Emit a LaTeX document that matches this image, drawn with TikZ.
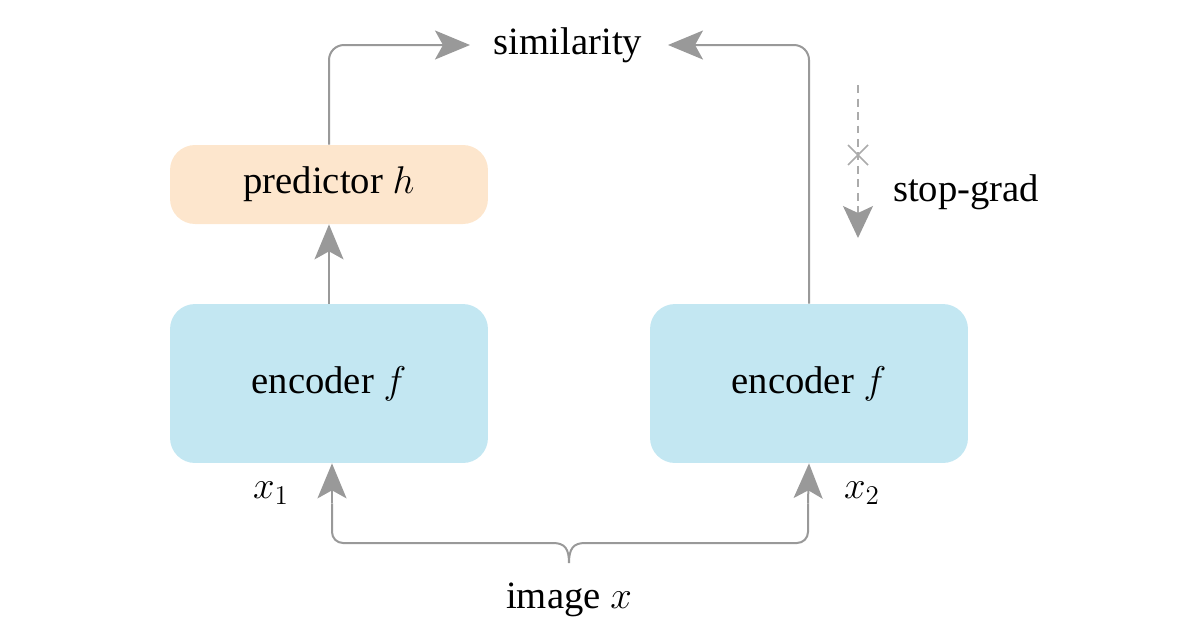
\RequirePackage{fix-cm}
\documentclass[tikz,border=0pt]{standalone}
\usepackage[no-math]{fontspec}
\setmainfont{Liberation Serif}
\usetikzlibrary{arrows.meta,calc}
\definecolor{arrgray}{HTML}{999999}
\definecolor{dashgray}{HTML}{ABABAB}
\definecolor{encblue}{HTML}{C3E7F2}
\definecolor{predpeach}{HTML}{FDE6CD}
\begin{document}
\begin{tikzpicture}[x=0.02cm,y=-0.02cm,
  font=\fontsize{22}{26}\selectfont,
  bigtip/.style={-{Stealth[length=7mm,width=5.8mm,inset=1.6mm]}},
  arr/.style={draw=arrgray,line width=0.4mm,bigtip},
  line/.style={draw=arrgray,line width=0.4mm},
  encbox/.style={fill=encblue,rounded corners=5mm,minimum width=6.36cm,minimum height=3.18cm,inner sep=0},
  predbox/.style={fill=predpeach,rounded corners=5mm,minimum width=6.36cm,minimum height=1.58cm,inner sep=0},
  lbl/.style={inner sep=0}]
\useasboundingbox (0,0) rectangle (1200,630);
\node[predbox] (pred) at (329,184.5) {predictor $h$};
\node[encbox] (encL) at (329,383.5) {encoder $f$};
\node[encbox] (encR) at (809,383.5) {encoder $f$};
\node[lbl] (sim) at (568,45) {similarity};
\node[lbl] (img) at (569,600) {image $x$};
\node[lbl] (x1) at (271,493) {$x_1$};
\node[lbl] (x2) at (862,493) {$x_2$};
\node[lbl] (sg) at (966,192) {stop-grad};
\coordinate (simL) at (470,45);
\coordinate (simR) at (668,45);
\coordinate (braceL) at (332,543);
\coordinate (braceR) at (808,543);
\coordinate (braceTip) at (569,563);
\coordinate (curlL) at (553,543);
\coordinate (curlR) at (585,543);
% top connectors
\draw[arr,rounded corners=3mm] (pred.north) |- (simL);
\draw[arr,rounded corners=3mm] (encR.north) |- (simR);
% encoder to predictor
\draw[arr] (encL.north) -- (pred.south);
% brace and input arrows
\draw[line,rounded corners=2.2mm] (curlL) -- (braceL) -- ($(encL.south)+(3,40)$);
\draw[line,rounded corners=2.2mm] (curlR) -- (braceR) -- ($(encR.south)+(-1,40)$);
\draw[line] (curlL) .. controls ($(curlL)+(12,0)$) and ($(braceTip)+(0,-14)$) .. (braceTip)
            .. controls ($(braceTip)+(0,-14)$) and ($(curlR)+(-12,0)$) .. (curlR);
\draw[arr] ($(encL.south)+(3,40)$) -- ($(encL.south)+(3,0)$);
\draw[arr] ($(encR.south)+(-1,40)$) -- (encR.south);
% stop-grad
\coordinate (sgTop) at (858,85);
\coordinate (sgBot) at (858,238);
\coordinate (sgX) at (858,155);
\draw[draw=dashgray,line width=0.3mm,dash pattern=on 1.6mm off 1.1mm] (sgTop) -- ($(sgBot)+(0,-20)$);
\draw[draw=arrgray,line width=0.3mm,-{Stealth[length=6.4mm,width=6mm,inset=1.4mm]}] ($(sgBot)+(0,-22)$) -- (sgBot);
\draw[draw=dashgray,line width=0.3mm] ($(sgX)+(-10,-10)$) -- ($(sgX)+(10,10)$) ($(sgX)+(-10,10)$) -- ($(sgX)+(10,-10)$);
\end{tikzpicture}
\end{document}
